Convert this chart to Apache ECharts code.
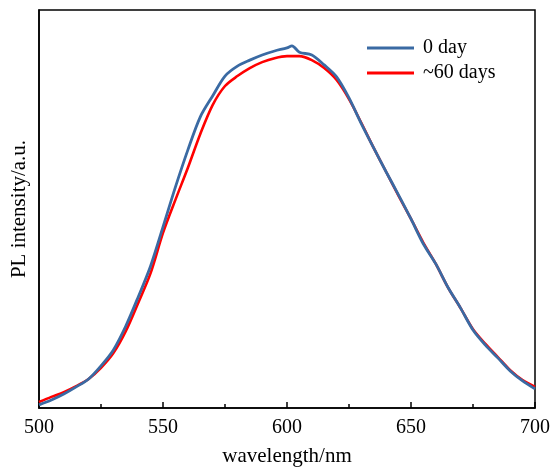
<!DOCTYPE html>
<html>
<head>
<meta charset="utf-8">
<script src="https://cdn.jsdelivr.net/npm/echarts@6/dist/echarts.min.js"></script>
<style>html,body{margin:0;padding:0;background:#fff;}#c{width:553px;height:467px;}</style>
</head>
<body>
<div id="c"></div>
<script>
var wavelengths = [500,505,510,515,520,525,530,535,540,545,550,555,560,565,570,575,580,585,590,595,600,602,605,610,615,620,625,630,635,640,645,650,655,660,665,670,675,680,685,690,695,700];
var day0 = [8,20,35,53,73,106,146,206,279,357,455,555,648,731,784,834,859,874,887,897,905,910,894,887,862,832,779,714,653,593,535,475,412,362,302,251,196,158,126,93,68,48];
var day60 = [15,28,40,55,73,101,138,193,264,339,440,523,603,688,761,809,834,854,869,879,884,884,884,874,854,824,776,716,653,593,533,475,415,362,302,251,198,161,128,95,70,53];
var xTicks = [500,550,600,650,700];
var seriesNames = ['0 day','~60 days'];

function pairs(xs, ys){ return xs.map(function(x,i){ return [x, ys[i]]; }); }

var chart = echarts.init(document.getElementById('c'));
var font = 'Liberation Serif';
chart.setOption({
  animation: false,
  backgroundColor: '#fff',
  grid: { left: 39, right: 18, top: 10, bottom: 59, outerBoundsMode: 'none', containLabel: false,
          show: true, borderColor: '#000', borderWidth: 1.5, backgroundColor: 'transparent' },
  legend: {
    data: [{name: seriesNames[0], icon: 'rect'}, {name: seriesNames[1], icon: 'rect'}],
    orient: 'vertical',
    left: 362, top: 33,
    itemWidth: 47, itemHeight: 3, itemGap: 5,
    textStyle: { fontFamily: font, fontSize: 20, lineHeight: 20, color: '#000', padding: [0,0,0,4] }
  },
  xAxis: {
    type: 'value', min: xTicks[0], max: xTicks[xTicks.length-1], interval: 50,
    name: 'wavelength/nm', nameLocation: 'middle', nameGap: 38,
    nameTextStyle: { fontFamily: font, fontSize: 21, color: '#000' },
    axisLine: { show: true, lineStyle: { color: '#000', width: 1.5 } },
    axisTick: { show: true, inside: true, length: 6, lineStyle: { color: '#000', width: 1.5 } },
    minorTick: { show: true, splitNumber: 2, length: 4, lineStyle: { color: '#000', width: 1.5 } },
    axisLabel: { fontFamily: font, fontSize: 20, color: '#000', margin: 10 },
    splitLine: { show: false }
  },
  yAxis: {
    type: 'value', min: 0, max: 1000,
    name: 'PL intensity/a.u.', nameLocation: 'middle', nameGap: 9,
    nameTextStyle: { fontFamily: font, fontSize: 21, color: '#000' },
    axisLine: { show: true, lineStyle: { color: '#000', width: 1.5 } },
    axisTick: { show: false },
    axisLabel: { show: false },
    splitLine: { show: false }
  },
  series: [
    { name: seriesNames[1], type: 'line', data: pairs(wavelengths, day60), showSymbol: false, symbol: 'none', smooth: 0.3,
      lineStyle: { color: '#ff0000', width: 2.6 }, itemStyle: { color: '#ff0000' }, z: 2 },
    { name: seriesNames[0], type: 'line', data: pairs(wavelengths, day0), showSymbol: false, symbol: 'none', smooth: 0.3,
      lineStyle: { color: '#3a6aa3', width: 2.8 }, itemStyle: { color: '#3a6aa3' }, z: 3 }
  ]
});
</script>
</body>
</html>
